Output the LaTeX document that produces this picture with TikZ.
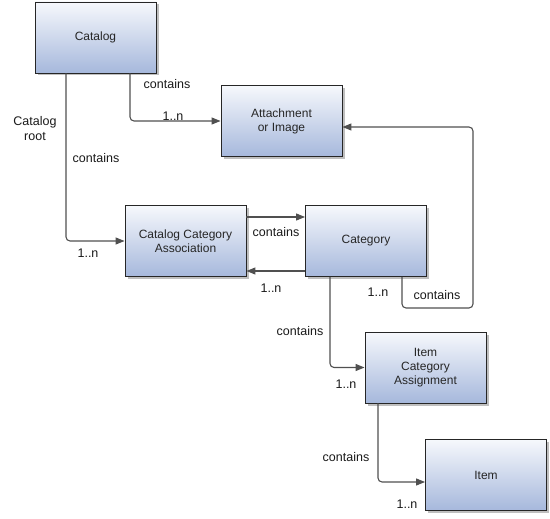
\documentclass[tikz,border=0pt]{standalone}
\usepackage{fontspec}
\setmainfont{Liberation Sans}
\usetikzlibrary{arrows.meta,shadows}

\definecolor{boxtop}{HTML}{F6F8FC}
\definecolor{boxbot}{HTML}{A6B8DC}
\definecolor{linegray}{HTML}{505050}

\tikzset{
  entity/.style={draw=black!85,line width=0.9pt,top color=boxtop,bottom color=boxbot,
    minimum width=121pt,minimum height=71pt,inner sep=0pt,align=center,
    text=black!85,font=\fontsize{12}{14}\selectfont,
    drop shadow={shadow xshift=2.5pt,shadow yshift=-2.5pt,fill=black!25,opacity=1}},
  conn/.style={draw=linegray,line width=1.1pt,rounded corners=4pt,
    -{Triangle[length=9pt,width=7pt]}},
  lbl/.style={inner sep=0pt,align=center,text=black!90,font=\fontsize{12.5}{15}\selectfont}
}

\begin{document}
\begin{tikzpicture}[x=1pt,y=-1pt]
  \useasboundingbox (0,0) rectangle (550,519);
  % Boxes
  \node[entity] (catalog)  at (95.5,37.5) {Catalog};
  \node[entity] (attach)   at (281.5,121) {Attachment\\or Image};
  \node[entity] (cca)      at (185.5,241) {Catalog Category\\Association};
  \node[entity] (category) at (366,241)   {Category};
  \node[entity] (ica)      at (425.5,367.5) {Item\\Category\\Assignment};
  \node[entity] (item)     at (486,475)   {Item};
  % Connectors
  \draw[conn] ([xshift=34.5pt]catalog.south) |- (attach.west);
  \draw[conn] ([xshift=-29.5pt]catalog.south) |- (cca.west);
  \draw[conn] ([yshift=24pt]cca.east) -- ([yshift=24pt]category.west);
  \draw[conn] ([yshift=-30pt]category.west) -- ([yshift=-30pt]cca.east);
  \coordinate (turn) at (473,308);
  \draw[conn] ([xshift=36pt]category.south) |- (turn) |- ([yshift=-6pt]attach.east);
  \draw[conn] ([xshift=-36pt]category.south) |- (ica.west);
  \draw[conn] ([xshift=-47.5pt]ica.south) |- ([yshift=-7pt]item.west);
  % Labels
  \node[lbl] (l1) at (167,84)  {contains};
  \node[lbl] (l2) at (173,116) {1..n};
  \node[lbl] (l3) at (35,129)  {Catalog\\root};
  \node[lbl] (l4) at (96,158)  {contains};
  \node[lbl] (l5) at (88,253)  {1..n};
  \node[lbl] (l6) at (276,232) {contains};
  \node[lbl] (l7) at (271,288) {1..n};
  \node[lbl] (l8) at (378,292) {1..n};
  \node[lbl] (l9) at (437,295) {contains};
  \node[lbl] (l10) at (300,331) {contains};
  \node[lbl] (l11) at (346,384) {1..n};
  \node[lbl] (l12) at (346,457) {contains};
  \node[lbl] (l13) at (407,504) {1..n};
\end{tikzpicture}
\end{document}
